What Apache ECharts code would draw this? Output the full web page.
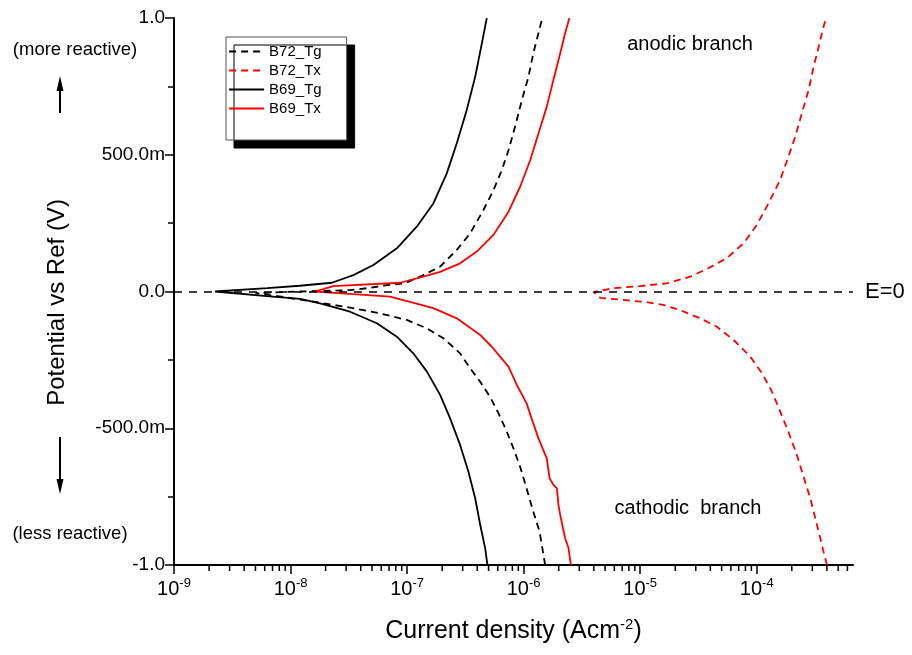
<!DOCTYPE html>
<html>
<head>
<meta charset="utf-8">
<script src="https://cdn.jsdelivr.net/npm/echarts@6/dist/echarts.min.js"></script>
<style>
html,body{margin:0;padding:0;background:#fff;}
#chart{width:912px;height:655px;}
</style>
</head>
<body>
<div id="chart"></div>
<script>
// ---- data: [current density (A cm^-2), potential (V)] ----
const B72_Tg = [[1.53e-6,-1.0],[1.37e-6,-0.878],[1.21e-6,-0.805],[1.06e-6,-0.720],[9.33e-7,-0.641],[8.17e-7,-0.573],[7.18e-7,-0.513],[6.08e-7,-0.445],[5.15e-7,-0.385],[4.24e-7,-0.330],[3.48e-7,-0.281],[2.85e-7,-0.226],[2.05e-7,-0.171],[1.48e-7,-0.135],[9.93e-8,-0.104],[5.86e-8,-0.080],[3.24e-8,-0.059],[2.33e-8,-0.049],[1.47e-8,-0.035],[8e-9,-0.018],[5e-9,-0.006],[1.2e-8,0.0],[2.2e-8,0.003],[3.24e-8,0.005],[4.51e-8,0.012],[6.70e-8,0.023],[9.61e-8,0.030],[1.38e-7,0.060],[1.92e-7,0.091],[2.67e-7,0.152],[3.48e-7,0.213],[4.52e-7,0.298],[5.51e-7,0.371],[6.50e-7,0.444],[7.42e-7,0.517],[8.45e-7,0.603],[9.66e-7,0.700],[1.10e-6,0.785],[1.21e-6,0.871],[1.34e-6,0.944],[1.43e-6,0.993]];
const B72_Tx = [[4.01e-4,-1.0],[3.74e-4,-0.951],[3.51e-4,-0.902],[3.18e-4,-0.829],[2.88e-4,-0.756],[2.52e-4,-0.677],[2.21e-4,-0.598],[1.87e-4,-0.513],[1.59e-4,-0.439],[1.35e-4,-0.366],[1.11e-4,-0.299],[8.79e-5,-0.238],[6.32e-5,-0.177],[4.55e-5,-0.129],[3.27e-5,-0.098],[2.20e-5,-0.068],[1.58e-5,-0.049],[1.14e-5,-0.039],[7.19e-6,-0.031],[4.54e-6,-0.023],[3.97e-6,-0.002],[5.90e-6,0.012],[1.0e-5,0.020],[1.69e-5,0.030],[2.68e-5,0.054],[3.84e-5,0.085],[5.54e-5,0.122],[7.71e-5,0.176],[1.0e-4,0.243],[1.26e-4,0.322],[1.59e-4,0.408],[1.87e-4,0.493],[2.14e-4,0.566],[2.44e-4,0.652],[2.79e-4,0.737],[3.08e-4,0.822],[3.40e-4,0.895],[3.74e-4,0.968],[3.93e-4,1.0]];
const B69_Tg = [[4.89e-7,-1.0],[4.68e-7,-0.939],[4.24e-7,-0.853],[3.84e-7,-0.756],[3.36e-7,-0.659],[2.85e-7,-0.561],[2.34e-7,-0.464],[1.92e-7,-0.378],[1.48e-7,-0.293],[1.13e-7,-0.226],[8.17e-8,-0.165],[5.50e-8,-0.116],[3.24e-8,-0.074],[1.79e-8,-0.043],[1.21e-8,-0.027],[6.25e-9,-0.017],[2.25e-9,0.0],[6.3e-9,0.012],[1.2e-8,0.021],[2.26e-8,0.032],[3.46e-8,0.060],[5.14e-8,0.097],[8.17e-8,0.158],[1.21e-7,0.237],[1.68e-7,0.322],[2.19e-7,0.432],[2.67e-7,0.542],[3.25e-7,0.664],[3.84e-7,0.785],[4.38e-7,0.907],[4.83e-7,1.0]];
const B69_Tx = [[2.54e-6,-1.0],[2.43e-6,-0.939],[2.27e-6,-0.902],[2.06e-6,-0.817],[1.99e-6,-0.781],[1.93e-6,-0.720],[1.80e-6,-0.707],[1.67e-6,-0.683],[1.58e-6,-0.610],[1.34e-6,-0.537],[1.17e-6,-0.464],[1.06e-6,-0.409],[8.75e-7,-0.342],[7.42e-7,-0.275],[6.28e-7,-0.238],[5.33e-7,-0.202],[4.24e-7,-0.159],[2.67e-7,-0.098],[1.68e-7,-0.061],[7.14e-8,-0.019],[2.05e-8,-0.003],[1.62e-8,0.0],[2.33e-8,0.020],[8.71e-8,0.032],[1.21e-7,0.048],[1.92e-7,0.072],[2.85e-7,0.103],[3.96e-7,0.146],[5.51e-7,0.207],[7.42e-7,0.292],[9.33e-7,0.383],[1.14e-6,0.481],[1.34e-6,0.578],[1.58e-6,0.676],[1.80e-6,0.773],[2.06e-6,0.871],[2.27e-6,0.944],[2.47e-6,1.0]];

const seriesNames = ['B72_Tg', 'B72_Tx', 'B69_Tg', 'B69_Tx'];
const xMin = 1e-9, xMax = 6.7e-4;
const xMajorTicks = [1e-9, 1e-8, 1e-7, 1e-6, 1e-5, 1e-4];
const yMin = -1.0, yMax = 1.0;
const yTickValues = [-1.0, -0.5, 0.0, 0.5, 1.0];
const yTickLabels = ['-1.0', '-500.0m', '0.0', '500.0m', '1.0'];
// log minor ticks (2..9 x 10^n) inside the axis range
const minorTickValues = [];
for (let e = -9; e <= -4; e++) {
  for (let m = 2; m <= 9; m++) {
    const v = m * Math.pow(10, e);
    if (v < xMax) minorTickValues.push(v);
  }
}

const FONT = 'Liberation Sans, Arial, Helvetica, sans-serif';
const chart = echarts.init(document.getElementById('chart'), null, {renderer: 'canvas'});

function mkLine(name, data, color, dashed) {
  return {
    name: name, type: 'line', data: data, showSymbol: false, symbol: 'none',
    smooth: false, animation: false, z: 3,
    lineStyle: {color: color, width: 1.8, type: dashed ? [7, 5] : 'solid'},
    itemStyle: {color: color}
  };
}

const series = [
  mkLine('B72_Tg', B72_Tg, '#000000', true),
  mkLine('B72_Tx', B72_Tx, '#ff0000', true),
  mkLine('B69_Tg', B69_Tg, '#000000', false),
  mkLine('B69_Tx', B69_Tx, '#ff0000', false)
];
// E = 0 reference line
series[0].markLine = {
  silent: true, symbol: 'none', animation: false,
  lineStyle: {color: '#000', width: 1.6, type: [8, 7]},
  label: {show: true, position: 'end', formatter: 'E=0', color: '#000', fontSize: 22, fontFamily: FONT, distance: 12},
  data: [{yAxis: 0}]
};
// log minor ticks on the x axis
series.push({
  type: 'custom', name: 'minorTicks', silent: true, animation: false, clip: false,
  data: minorTickValues.map(v => [v, yMin]),
  renderItem: function (params, api) {
    const p = api.coord([api.value(0), api.value(1)]);
    return {type: 'line', shape: {x1: p[0], y1: p[1], x2: p[0], y2: p[1] + 6},
            style: {stroke: '#000', lineWidth: 1.5}};
  }
});

const option = {
  animation: false,
  backgroundColor: '#fff',
  grid: {left: 174, right: 59, top: 18, bottom: 90},
  legend: {
    data: seriesNames,
    left: 226, top: 37, orient: 'vertical',
    itemWidth: 35, itemHeight: 15, itemGap: 4,
    padding: [7, 25, 24, 2],
    backgroundColor: '#fff', borderColor: '#555', borderWidth: 1,
    shadowColor: '#000', shadowBlur: 0, shadowOffsetX: 8, shadowOffsetY: 8,
    itemStyle: {opacity: 0},
    lineStyle: {width: 2.2},
    textStyle: {fontSize: 15, color: '#000', fontFamily: FONT},
    selectedMode: false
  },
  xAxis: {
    type: 'log', logBase: 10, min: xMin, max: xMax, interval: 1,
    name: '{a|Current density (Acm}{s|-2}{a|)}',
    nameLocation: 'middle', nameGap: 52,
    nameTextStyle: {
      rich: {
        a: {fontSize: 25, fontFamily: FONT, color: '#000'},
        s: {fontSize: 15, fontFamily: FONT, color: '#000', padding: [0, 0, 14, 0]}
      }
    },
    axisLine: {onZero: false, lineStyle: {color: '#000', width: 2}},
    axisTick: {show: true, inside: false, length: 9, customValues: xMajorTicks, lineStyle: {color: '#000', width: 1.5}},
    minorTick: {show: false},
    splitLine: {show: false},
    axisLabel: {
      margin: 12, customValues: xMajorTicks,
      formatter: function (v) {
        const e = Math.round(Math.log10(v));
        return '{b|10}{s|' + e + '}';
      },
      rich: {
        b: {fontSize: 20, fontFamily: FONT, color: '#000'},
        s: {fontSize: 13, fontFamily: FONT, color: '#000', padding: [0, 0, 11, 0]}
      }
    }
  },
  yAxis: {
    type: 'value', min: yMin, max: yMax, interval: 0.5,
    name: 'Potential vs Ref (V)', nameLocation: 'middle', nameGap: 105,
    nameTextStyle: {fontSize: 24, fontFamily: FONT, color: '#000', padding: [0, 22, 0, 0]},
    axisLine: {onZero: false, lineStyle: {color: '#000', width: 2}},
    axisTick: {show: true, inside: false, length: 9, lineStyle: {color: '#000', width: 1.5}},
    minorTick: {show: true, splitNumber: 2, length: 6, lineStyle: {color: '#000', width: 1.5}},
    splitLine: {show: false},
    axisLabel: {
      margin: 9, fontSize: 19, fontFamily: FONT, color: '#000',
      formatter: function (v) {
        const i = yTickValues.findIndex(t => Math.abs(t - v) < 1e-9);
        return i >= 0 ? yTickLabels[i] : '';
      }
    }
  },
  graphic: [
    {type: 'text', x: 75, y: 50, style: {text: '(more reactive)', fontSize: 18.5, fontFamily: FONT, fill: '#000', align: 'center', verticalAlign: 'middle'}},
    {type: 'line', shape: {x1: 60, y1: 113, x2: 60, y2: 88}, style: {stroke: '#000', lineWidth: 2}},
    {type: 'polygon', shape: {points: [[60, 76], [56.5, 91], [63.5, 91]]}, style: {fill: '#000'}},
    {type: 'text', x: 70, y: 534, style: {text: '(less reactive)', fontSize: 18.5, fontFamily: FONT, fill: '#000', align: 'center', verticalAlign: 'middle'}},
    {type: 'line', shape: {x1: 60, y1: 437, x2: 60, y2: 480}, style: {stroke: '#000', lineWidth: 2}},
    {type: 'polygon', shape: {points: [[60, 494], [56.5, 479], [63.5, 479]]}, style: {fill: '#000'}},
    {type: 'text', x: 690, y: 44, style: {text: 'anodic branch', fontSize: 20, fontFamily: FONT, fill: '#000', align: 'center', verticalAlign: 'middle'}},
    {type: 'text', x: 688, y: 508, style: {text: 'cathodic  branch', fontSize: 20, fontFamily: FONT, fill: '#000', align: 'center', verticalAlign: 'middle'}}
  ],
  series: series
};
chart.setOption(option);
</script>
</body>
</html>
